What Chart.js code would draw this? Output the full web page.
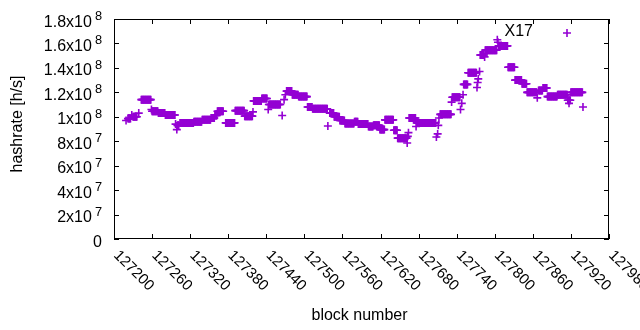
<!DOCTYPE html>
<html>
<head>
<meta charset="utf-8">
<script src="https://cdn.jsdelivr.net/npm/chart.js@4.4.0/dist/chart.umd.min.js"></script>
<style>
  html, body { margin: 0; padding: 0; background: #fff; }
  #wrap { width: 640px; height: 330px; }
</style>
</head>
<body>
<div id="wrap"><canvas id="hashChart" width="640" height="330"></canvas></div>
<script>
// Runs of blocks that share the same estimate (from block, to block, hashrate in 1e6 h/s)
const runFrom = [
  127222, 127230, 127243, 127260, 127270, 127281, 127300, 127304, 127326, 127339,
  127353, 127359, 127363, 127376, 127391, 127406, 127420, 127433, 127444, 127472,
  127481, 127491, 127505, 127513, 127540, 127547, 127556, 127564, 127579, 127585,
  127601, 127609, 127619, 127627, 127641, 127647, 127665, 127677, 127714, 127733,
  127751, 127758, 127777, 127785, 127806, 127821, 127832, 127843, 127851, 127869,
  127876, 127883, 127899, 127915, 127920
];
const runTo = [
  127226, 127236, 127258, 127269, 127280, 127296, 127302, 127325, 127338, 127352,
  127358, 127362, 127372, 127390, 127405, 127418, 127432, 127441, 127462, 127480,
  127490, 127504, 127512, 127536, 127546, 127555, 127563, 127578, 127584, 127600,
  127608, 127618, 127626, 127640, 127646, 127661, 127675, 127707, 127731, 127745,
  127757, 127771, 127783, 127803, 127820, 127831, 127842, 127850, 127866, 127875,
  127882, 127898, 127914, 127919, 127938
];
const runRate = [
  98.5, 100, 114, 104.5, 103, 101.5, 93, 95, 96, 97.5,
  99, 101, 104.5, 95, 105, 100.5, 113, 115, 110, 121,
  118, 116.5, 108, 106.5, 103, 100, 97, 94.5, 96, 94,
  92, 93, 89.5, 97.5, 89, 82.5, 99, 95, 102, 116,
  126.5, 136, 150.5, 154.5, 158, 140.5, 130, 127, 120, 121.5,
  123.5, 116.5, 118, 113.5, 120
];

// Single blocks that stand apart
const dotBlock = [
  127219, 127228, 127239, 127259, 127297, 127299, 127419, 127443, 127465, 127468,
  127470, 127537, 127662, 127663, 127664, 127676, 127708, 127710, 127711, 127712,
  127732, 127746, 127748, 127750, 127772, 127773, 127774, 127776, 127784, 127804,
  127805, 127867, 127917, 127939
];
const dotRate = [
  97, 101.5, 103, 106, 94, 89.5, 104, 106, 101, 114,
  118, 92.5, 78.5, 84, 87, 92, 83.5, 86, 93, 99,
  112, 106, 111, 118, 124, 128, 131, 137, 149, 163,
  161, 115.5, 111, 108
];

// Axis ticks
const yTickBase = ["0", "2x10", "4x10", "6x10", "8x10", "1x10", "1.2x10", "1.4x10", "1.6x10", "1.8x10"];
const yTickExp = ["", "7", "7", "7", "7", "8", "8", "8", "8", "8"];
const xTickLabels = ["127200", "127260", "127320", "127380", "127440", "127500", "127560",
  "127620", "127680", "127740", "127800", "127860", "127920", "127980"];

const seriesName = "X17";
const purple = "#9400d3";
const FONT = '"Liberation Sans", Arial, sans-serif';

// Build point list
const points = [];
runFrom.forEach((from, i) => {
  for (let b = from; b <= runTo[i]; b++) {
    points.push({ x: b, y: runRate[i] * 1e6 });
  }
});
dotBlock.forEach((b, i) => points.push({ x: b, y: dotRate[i] * 1e6 }));

// gnuplot-like frame, ticks, labels and key
const gnuplotFrame = {
  id: "gnuplotFrame",
  afterDraw(chart) {
    const ctx = chart.ctx;
    const area = chart.chartArea;
    const xs = chart.scales.x;
    const ys = chart.scales.y;
    const tickLen = 5;

    ctx.save();
    ctx.strokeStyle = "#000";
    ctx.lineWidth = 1;

    // border
    ctx.strokeRect(area.left + 0.5, area.top + 0.5, area.right - area.left - 1, area.bottom - area.top - 1);

    // inward ticks on all sides
    ctx.beginPath();
    xTickLabels.forEach((lab) => {
      const px = Math.round(xs.getPixelForValue(Number(lab))) + 0.5;
      ctx.moveTo(px, area.bottom);
      ctx.lineTo(px, area.bottom - tickLen);
      ctx.moveTo(px, area.top);
      ctx.lineTo(px, area.top + tickLen);
    });
    yTickBase.forEach((lab, i) => {
      const py = Math.round(ys.getPixelForValue(i * 2e7)) + 0.5;
      ctx.moveTo(area.left, py);
      ctx.lineTo(area.left + tickLen, py);
      ctx.moveTo(area.right, py);
      ctx.lineTo(area.right - tickLen, py);
    });
    ctx.stroke();

    ctx.fillStyle = "#000";

    // y tick labels with superscript exponent
    const mainFont = "16px " + FONT;
    const supFont = "12.8px " + FONT;
    const rightEdge = 102;
    yTickBase.forEach((lab, i) => {
      const py = ys.getPixelForValue(i * 2e7);
      ctx.font = mainFont;
      const wMain = ctx.measureText(lab).width;
      ctx.font = supFont;
      const exp = yTickExp[i];
      const wSup = exp ? ctx.measureText(exp).width + 3 : 0;
      const x0 = rightEdge - wSup - wMain;
      ctx.textAlign = "left";
      ctx.textBaseline = "alphabetic";
      ctx.font = mainFont;
      ctx.fillText(lab, x0, py + 7.5);
      if (exp) {
        ctx.font = supFont;
        ctx.fillText(exp, x0 + wMain + 3, py + 1);
      }
    });

    // x tick labels, rotated
    ctx.font = "15px " + FONT;
    ctx.textAlign = "left";
    ctx.textBaseline = "middle";
    xTickLabels.forEach((lab) => {
      const px = xs.getPixelForValue(Number(lab));
      ctx.save();
      ctx.translate(px + 2, area.bottom + 14);
      ctx.rotate(Math.PI / 4);
      ctx.fillText(lab, 0, 0);
      ctx.restore();
    });

    // axis titles
    ctx.font = "16px " + FONT;
    ctx.textAlign = "center";
    ctx.textBaseline = "middle";
    ctx.fillText("block number", (area.left + area.right) / 2 - 2, 316);
    ctx.save();
    ctx.translate(18, 124);
    ctx.rotate(-Math.PI / 2);
    ctx.fillText("hashrate [h/s]", 0, 0);
    ctx.restore();

    // key
    ctx.textAlign = "right";
    ctx.fillText(seriesName, 533, 32);
    ctx.strokeStyle = purple;
    ctx.lineWidth = 1.6;
    ctx.beginPath();
    ctx.moveTo(563, 33);
    ctx.lineTo(571, 33);
    ctx.moveTo(567, 29);
    ctx.lineTo(567, 37);
    ctx.stroke();

    ctx.restore();
  }
};

const ctx = document.getElementById("hashChart").getContext("2d");
new Chart(ctx, {
  type: "scatter",
  data: {
    datasets: [{
      label: seriesName,
      data: points,
      pointStyle: "cross",
      pointRadius: 4,
      pointBorderWidth: 1.6,
      borderColor: purple,
      backgroundColor: purple
    }]
  },
  options: {
    responsive: false,
    animation: false,
    devicePixelRatio: 1,
    events: [],
    layout: { padding: { top: 19, right: 31, left: 0, bottom: 0 } },
    plugins: {
      legend: { display: false },
      tooltip: { enabled: false }
    },
    scales: {
      x: {
        type: "linear",
        min: 127200,
        max: 127980,
        ticks: { display: false, stepSize: 60 },
        grid: { display: false },
        border: { display: false },
        afterFit: (scale) => { scale.height = 91; }
      },
      y: {
        type: "linear",
        min: 0,
        max: 1.8e8,
        ticks: { display: false, stepSize: 2e7 },
        grid: { display: false },
        border: { display: false },
        afterFit: (scale) => { scale.width = 114; }
      }
    }
  },
  plugins: [gnuplotFrame]
});
</script>
</body>
</html>
